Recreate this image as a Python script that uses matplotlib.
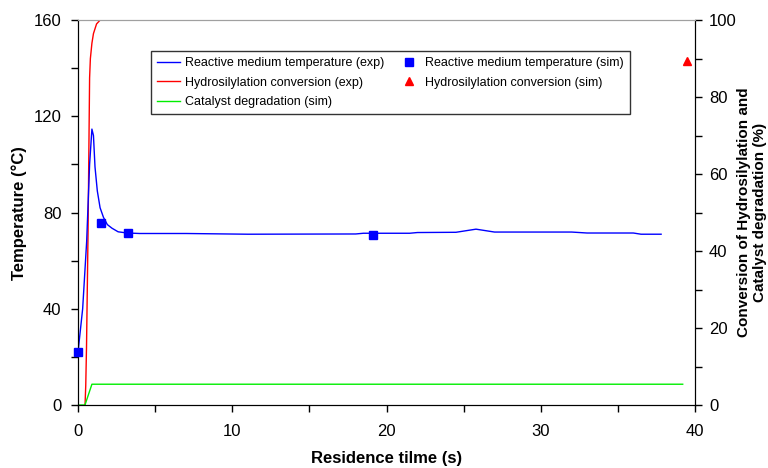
import matplotlib.pyplot as plt
from matplotlib.ticker import MultipleLocator

plt.rcParams['font.family'] = ['Liberation Sans', 'DejaVu Sans']

# temperature (exp), left axis
t_temp = [0, 0.3, 0.56, 0.75, 0.9, 1.0, 1.1, 1.25, 1.43, 1.65, 1.9, 2.2, 2.6, 3.2, 4.0, 7.0,
          11.0, 18.0, 18.5, 21.5, 22.0, 24.5, 25.8, 27.0, 32.0, 33.0, 36.0, 36.5, 37.8]
temp_exp = [22, 40, 68, 100, 114.7, 112, 99, 89, 82, 78, 75, 73.5, 72, 71.5, 71.3, 71.3,
            71.0, 71.1, 71.4, 71.4, 71.7, 71.8, 73.1, 71.9, 71.9, 71.5, 71.5, 71.0, 71.0]

# temperature (sim)
t_temp_sim = [0, 1.5, 3.26, 19.1]
temp_sim = [22, 75.8, 71.6, 70.7]

# hydrosilylation conversion (exp), right axis
t_conv = [0, 0.1, 0.45, 0.5, 0.55, 0.6, 0.65, 0.7, 0.75, 0.8, 0.9, 1.0, 1.2, 1.43, 39.2]
conv_exp = [0, -0.5, -0.5, 5, 15, 30, 45, 65, 85, 90, 94, 96.5, 99, 100, 100]

# hydrosilylation conversion (sim)
t_conv_sim = [39.5]
conv_sim = [89.5]

# catalyst degradation (sim)
t_cat = [0, 0.45, 0.9, 39.2]
cat_sim = [0, 0, 5.4, 5.4]

fig = plt.figure(figsize=(7.68, 4.68), dpi=100)
ax = fig.add_axes([0.1016, 0.1346, 0.8034, 0.8224])
ax2 = ax.twinx()

l1, = ax.plot(t_temp, temp_exp, color='#0000ff', lw=1, label='Reactive medium temperature (exp)')
l4, = ax.plot(t_temp_sim, temp_sim, 's', color='#0000ff', ms=6, clip_on=False,
              label='Reactive medium temperature (sim)', zorder=5)
l2, = ax2.plot(t_conv, conv_exp, color='#ff0000', lw=1, label='Hydrosilylation conversion (exp)')
l3, = ax2.plot(t_cat, cat_sim, color='#00ee00', lw=1, label='Catalyst degradation (sim)')
l5, = ax2.plot(t_conv_sim, conv_sim, '^', color='#ff0000', ms=6, clip_on=False,
               label='Hydrosilylation conversion (sim)')

# temperature axes on top so the squares stay visible
ax.set_zorder(ax2.get_zorder() + 1)
ax.patch.set_visible(False)

ax.set_xlim(0, 40)
ax.set_ylim(0, 160)
ax2.set_ylim(0, 100)

ax.xaxis.set_major_locator(MultipleLocator(10))
ax.xaxis.set_minor_locator(MultipleLocator(5))
ax.yaxis.set_major_locator(MultipleLocator(40))
ax.yaxis.set_minor_locator(MultipleLocator(20))
ax2.yaxis.set_major_locator(MultipleLocator(20))
ax2.yaxis.set_minor_locator(MultipleLocator(10))

ax.tick_params(which='both', direction='out', length=5, width=1, labelsize=12)
ax.tick_params(axis='y', which='both', pad=7)
ax.tick_params(axis='x', which='both', pad=9)
ax2.tick_params(which='both', direction='out', length=5, width=1, labelsize=12, pad=5)
for a in (ax, ax2):
    a.spines['top'].set_color('#a0a0a0')
    a.spines['top'].set_linewidth(0.8)

ax.set_xlabel('Residence tilme (s)', fontsize=12, fontweight='bold', labelpad=8)
ax.set_ylabel('Temperature (°C)', fontsize=12, fontweight='bold', labelpad=5)
ax2.set_ylabel('Conversion of Hydrosilylation and\nCatalyst degradation (%)', fontsize=11,
               fontweight='bold', labelpad=0, linespacing=1.25)

leg = ax.legend(handles=[l1, l2, l3, l4, l5], ncol=2, loc='upper left',
                bbox_to_anchor=(0.118, 0.92), fontsize=9, frameon=True, fancybox=False,
                edgecolor='black', handlelength=1.85, handletextpad=0.35, columnspacing=1.1,
                labelspacing=0.6, borderpad=0.5, borderaxespad=0)
leg.get_frame().set_linewidth(1)

fig.savefig('out.png', dpi=100)
